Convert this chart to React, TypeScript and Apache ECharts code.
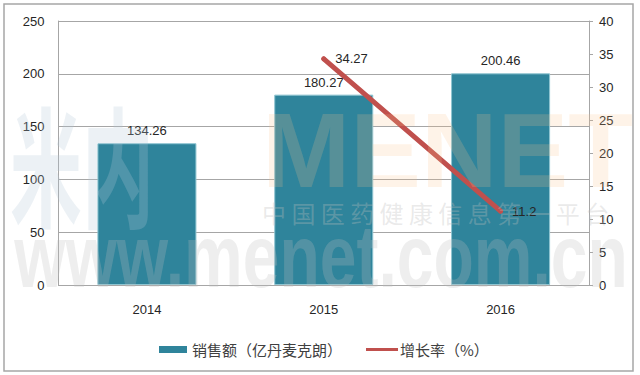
import React, { useEffect, useRef } from "react";
import * as echarts from "echarts";

const categories = ["2014", "2015", "2016"];
const salesValues = [134.26, 180.27, 200.46];
const growthValues: (number | string)[] = ["-", 34.27, 11.2];
const salesName = "销售额（亿丹麦克朗）";
const growthName = "增长率（%）";

const BAR_COLOR = "#2F849B";
const LINE_COLOR = "#C0504D";
const LABEL_FONT = "'Liberation Sans', 'Noto Sans', sans-serif";
const CJK_FONT = "'Noto Sans CJK SC', sans-serif";

export default function App() {
  const ref = useRef<HTMLDivElement>(null);
  useEffect(() => {
    document.body.style.margin = "0";
    if (!ref.current) return;
    const chart = echarts.init(ref.current, undefined, { renderer: "svg" });
    chart.setOption({
      animation: false,
      backgroundColor: "#ffffff",
      grid: { left: 58.5, right: 51, top: 21, bottom: 90, containLabel: false },
      legend: { show: false },
      xAxis: {
        type: "category",
        data: categories,
        axisLine: { show: true, lineStyle: { color: "#A6A6A6", width: 1 } },
        axisTick: { show: false },
        axisLabel: { color: "#262626", fontSize: 13, fontFamily: LABEL_FONT, margin: 18 },
      },
      yAxis: [
        {
          type: "value",
          min: 0,
          max: 250,
          interval: 50,
          axisLine: { show: true, lineStyle: { color: "#A6A6A6", width: 1 } },
          axisTick: { show: false },
          splitLine: { show: true, lineStyle: { color: "#A6A6A6", width: 1 } },
          axisLabel: { color: "#262626", fontSize: 13, fontFamily: LABEL_FONT, margin: 14 },
        },
        {
          type: "value",
          min: 0,
          max: 40,
          interval: 5,
          position: "right",
          axisLine: { show: true, lineStyle: { color: "#A6A6A6", width: 1 } },
          axisTick: { show: true, length: 4, lineStyle: { color: "#A6A6A6" } },
          splitLine: { show: false },
          axisLabel: { color: "#262626", fontSize: 13, fontFamily: LABEL_FONT, margin: 10 },
        },
      ],
      series: [
        {
          name: salesName,
          type: "bar",
          yAxisIndex: 0,
          data: salesValues,
          barWidth: "56%",
          itemStyle: { color: BAR_COLOR, borderColor: "#8FC5D1", borderWidth: 1 },
          label: {
            show: true,
            position: "top",
            distance: 6,
            color: "#262626",
            fontSize: 13,
            fontFamily: LABEL_FONT,
          },
          z: 2,
        },
        {
          name: growthName,
          type: "line",
          yAxisIndex: 1,
          data: growthValues,
          symbol: "circle",
          symbolSize: 5,
          lineStyle: { color: LINE_COLOR, width: 5, cap: "round" },
          itemStyle: { color: LINE_COLOR },
          label: {
            show: true,
            position: "right",
            distance: 9,
            color: "#262626",
            fontSize: 13,
            fontFamily: LABEL_FONT,
          },
          z: 3,
        },
      ],
      graphic: [
        {
          type: "rect",
          silent: true,
          z: 0,
          shape: { x: 4, y: 4, width: 629, height: 367 },
          style: { fill: "none", stroke: "#A6A6A6", lineWidth: 1.5 },
        },
        // legend
        {
          type: "rect",
          silent: true,
          z: 10,
          shape: { x: 159, y: 346, width: 28, height: 7 },
          style: { fill: BAR_COLOR },
        },
        {
          type: "text",
          silent: true,
          z: 10,
          x: 192,
          y: 349.5,
          style: {
            text: salesName,
            fontSize: 15,
            fontFamily: CJK_FONT,
            fill: "#404040",
            align: "left",
            verticalAlign: "middle",
          },
        },
        {
          type: "line",
          silent: true,
          z: 10,
          shape: { x1: 366, y1: 349.5, x2: 398, y2: 349.5 },
          style: { stroke: LINE_COLOR, lineWidth: 3 },
        },
        {
          type: "text",
          silent: true,
          z: 10,
          x: 400,
          y: 349.5,
          style: {
            text: growthName,
            fontSize: 15,
            fontFamily: CJK_FONT,
            fill: "#404040",
            align: "left",
            verticalAlign: "middle",
          },
        },
        // watermark
        {
          type: "text",
          silent: true,
          z: 100,
          x: 10,
          y: 95,
          scaleY: 1.8,
          style: {
            text: "米内",
            fontSize: 72,
            fontWeight: "bold",
            fontFamily: CJK_FONT,
            fill: "rgba(180,200,215,0.25)",
            align: "left",
            verticalAlign: "top",
          },
        },
        {
          type: "text",
          silent: true,
          z: 100,
          x: 262,
          y: 97,
          style: {
            text: "MENET",
            fontSize: 106,
            fontWeight: "bold",
            fontFamily: "'Liberation Sans', sans-serif",
            fill: "rgba(250,195,140,0.2)",
            align: "left",
            verticalAlign: "top",
          },
        },
        {
          type: "text",
          silent: true,
          z: 100,
          x: 262,
          y: 200,
          style: {
            text: "中 国 医 药 健 康 信 息 第 一 平 台",
            fontSize: 24,
            fontFamily: CJK_FONT,
            fill: "rgba(190,190,190,0.32)",
            align: "left",
            verticalAlign: "top",
          },
        },
        {
          type: "text",
          silent: true,
          z: 100,
          x: 321,
          y: 212,
          scaleY: 1.35,
          style: {
            text: "www.menet.com.cn",
            fontSize: 66,
            fontWeight: "bold",
            fontFamily: "'Liberation Sans', sans-serif",
            fill: "rgba(190,190,190,0.26)",
            align: "center",
            verticalAlign: "top",
          },
        },
      ],
    });
    return () => chart.dispose();
  }, []);
  return <div ref={ref} style={{ width: 640, height: 375 }} />;
}
